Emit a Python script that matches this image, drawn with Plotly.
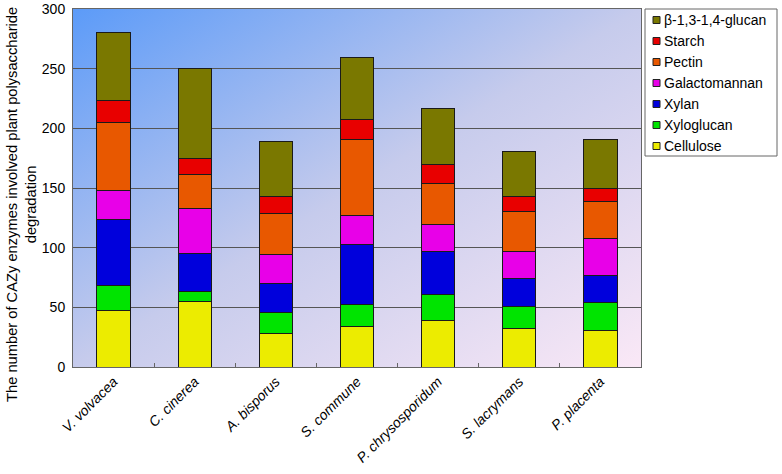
import base64
import plotly.graph_objects as go

species = ["V. volvacea", "C. cinerea", "A. bisporus", "S. commune",
           "P. chrysosporidum", "S. lacrymans", "P. placenta"]

cellulose = [47, 55, 28, 34, 39, 32, 31]
xyloglucan = [21, 8, 18, 18, 22, 19, 23]
xylan = [56, 32, 24, 51, 36, 23, 23]
galactomannan = [24, 38, 24, 24, 22, 23, 31]
pectin = [57, 28, 35, 64, 35, 33, 31]
starch = [18, 14, 14, 16, 16, 13, 11]
glucan = [57, 75, 46, 52, 47, 38, 41]

series = [
    ("Cellulose", cellulose, "#ecec00"),
    ("Xyloglucan", xyloglucan, "#00e400"),
    ("Xylan", xylan, "#0000dc"),
    ("Galactomannan", galactomannan, "#e800e8"),
    ("Pectin", pectin, "#e85800"),
    ("Starch", starch, "#e80000"),
    ("β-1,3-1,4-glucan", glucan, "#7a7800"),
]

W, H = 782, 474
L, R, T, B = 73, 141, 9, 107
pw, ph = W - L - R, H - T - B


def px(x):
    return (x - L) / pw


def py(y):
    return (H - B - y) / ph


# diagonal gradient for the plot background
svg = """<svg xmlns="http://www.w3.org/2000/svg" width="568" height="357" viewBox="0 0 568 357" preserveAspectRatio="none">
<defs><linearGradient id="g" x1="0" y1="0" x2="1" y2="1">
<stop offset="0" stop-color="#5c9bf8"/>
<stop offset="0.5" stop-color="#c6cbec"/>
<stop offset="1" stop-color="#fae8f6"/>
</linearGradient></defs>
<rect width="568" height="357" fill="url(#g)"/></svg>"""
bg_src = "data:image/svg+xml;base64," + base64.b64encode(svg.encode()).decode()

fig = go.Figure()
for name, vals, color in series:
    fig.add_trace(go.Bar(
        x=species, y=vals, name=name,
        marker=dict(color=color, line=dict(color="#1a1a1a", width=1)),
        width=0.41, showlegend=False,
    ))

# legend drawn by hand (compact, like the original)
shapes = [dict(type="rect", xref="paper", yref="paper",
               x0=px(645), x1=px(777), y0=py(156), y1=py(9),
               line=dict(color="#666666", width=1), fillcolor="white")]
annotations = []
for i, (name, vals, color) in enumerate(reversed(series)):
    cy = 20 + i * 21
    shapes.append(dict(type="rect", xref="paper", yref="paper",
                       x0=px(653), x1=px(660), y0=py(cy + 3.5), y1=py(cy - 3.5),
                       line=dict(color="#222222", width=1), fillcolor=color))
    annotations.append(dict(text=name, xref="paper", yref="paper",
                            x=px(662), y=py(cy), xanchor="left", yanchor="middle",
                            showarrow=False, font=dict(size=14)))

annotations.append(dict(
    text="The number of CAZy enzymes involved plant polysaccharide<br>degradation",
    xref="paper", yref="paper", x=px(21), y=py(205), textangle=-90,
    xanchor="center", yanchor="middle", showarrow=False,
    font=dict(size=14.7)))

fig.update_layout(
    barmode="stack",
    width=W, height=H,
    margin=dict(l=L, r=R, t=T, b=B),
    paper_bgcolor="white",
    plot_bgcolor="rgba(0,0,0,0)",
    font=dict(family="Liberation Sans, Arial, sans-serif", size=13, color="black"),
    images=[dict(source=bg_src, xref="paper", yref="paper", x=0, y=1,
                 sizex=1, sizey=1, sizing="stretch", layer="below")],
    shapes=shapes,
    annotations=annotations,
    showlegend=False,
)

fig.update_xaxes(
    tickangle=-45,
    tickfont=dict(size=14, style="italic"),
    showline=True, linecolor="#666666", linewidth=1, mirror=True,
    ticks="inside", tickson="boundaries", ticklen=4, tickcolor="#666666",
    showgrid=False, automargin=False,
)
fig.update_yaxes(
    range=[0, 300], dtick=50,
    tickfont=dict(size=14),
    showline=True, linecolor="#666666", linewidth=1, mirror=True,
    showgrid=True, gridcolor="#555555", gridwidth=1,
    zeroline=False, automargin=False, ticklabelstandoff=4,
)

# drop the default body margin so the figure sits at the page corner
fig.write_html("out.html", config={"displayModeBar": False},
               post_script="document.body.style.margin='0';")
